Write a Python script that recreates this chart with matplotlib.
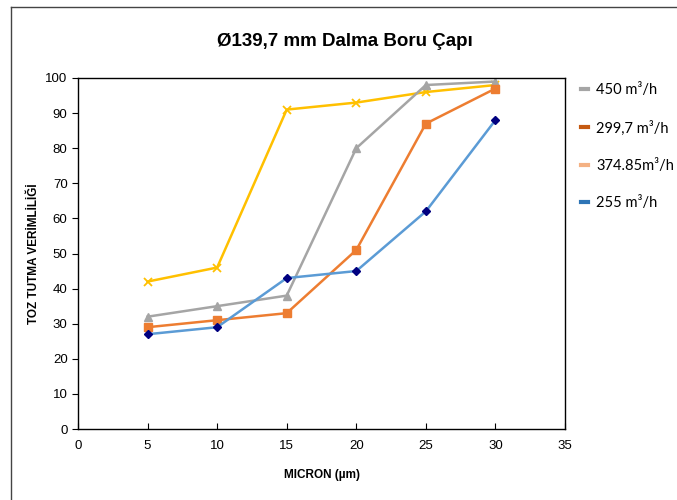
import matplotlib
matplotlib.use("Agg")
import matplotlib.pyplot as plt
from matplotlib.lines import Line2D

# valeurs
micron = [5, 10, 15, 20, 25, 30]
q450 = [32, 35, 38, 80, 98, 99]
q299 = [29, 31, 33, 51, 87, 97]
q374 = [42, 46, 91, 93, 96, 98]
q255 = [27, 29, 43, 45, 62, 88]
etiquettes = ["450 m³/h", "299,7 m³/h", "374.85m³/h", "255 m³/h"]
couleurs_legende = ["#A5A5A5", "#C55A11", "#F4B183", "#2E75B6"]

plt.rcParams["font.family"] = ["Liberation Sans", "DejaVu Sans"]

fig = plt.figure(figsize=(6.77, 5), dpi=100)
ax = fig.add_axes([78 / 677, 1 - 429 / 500, (565 - 78) / 677, (429 - 78) / 500])

ax.plot(micron, q374, color="#FFC000", lw=1.8, marker="x", ms=6, mew=1.3)
ax.plot(micron, q450, color="#A5A5A5", lw=1.8, marker="^", ms=6)
ax.plot(micron, q299, color="#ED7D31", lw=1.8, marker="s", ms=6)
ax.plot(micron, q255, color="#5B9BD5", lw=1.8, marker="D", ms=4,
        mfc="#000080", mec="#000080")

ax.set_xlim(0, 35)
ax.set_ylim(0, 100)
ax.set_xticks(range(0, 36, 5))
ax.set_yticks(range(0, 101, 10))
ax.tick_params(axis="x", direction="in", length=4, labelsize=9.5, pad=8)
ax.tick_params(axis="y", direction="out", length=4, labelsize=9.5)
for s in ax.spines.values():
    s.set_linewidth(1.0)

ax.set_xlabel("MICRON (µm)", fontsize=8.5, fontweight="bold", labelpad=12)
ax.set_ylabel("TOZ TUTMA VERİMLİLİĞİ", fontsize=8.5, fontweight="bold", labelpad=4)
fig.text(345 / 677, 1 - 42 / 500, "Ø139,7 mm Dalma Boru Çapı", ha="center",
         va="center", fontsize=13.5, fontweight="bold")

poignees = [Line2D([0], [0], color=c, lw=3) for c in couleurs_legende]
fig.legend(poignees, etiquettes, loc="upper left",
           bbox_to_anchor=(568 / 677, 1 - 70 / 500), frameon=False,
           prop={"family": "Lato", "size": 10.5}, handlelength=0.45,
           handletextpad=0.6, labelspacing=1.6)

# cadre de la zone du graphique
fig.add_artist(Line2D([11 / 677, 1], [1 - 7 / 500, 1 - 7 / 500], color="#444444", lw=1))
fig.add_artist(Line2D([11 / 677, 11 / 677], [0, 1 - 7 / 500], color="#444444", lw=1))

fig.savefig("out.png", dpi=100)
